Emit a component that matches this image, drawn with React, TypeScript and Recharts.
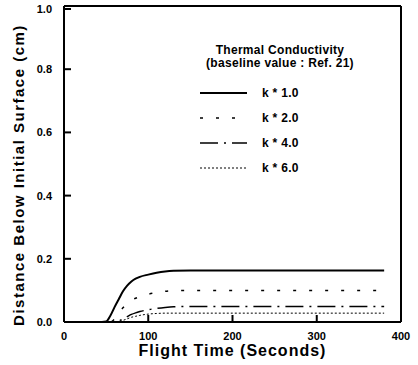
import { LineChart, Line, XAxis, YAxis, ReferenceLine } from "recharts";

// flight time (s)
const times = [0, 40, 50, 55, 60, 65, 70, 75, 80, 85, 90, 100, 110, 120, 130, 150, 200, 250, 300, 350, 380];

// distance below initial surface (cm) for each conductivity multiplier
const k1 = [0, 0, 0.002, 0.02, 0.047, 0.072, 0.097, 0.115, 0.128, 0.137, 0.143, 0.15, 0.156, 0.16, 0.162, 0.163, 0.163, 0.163, 0.163, 0.163, 0.163];
const k2 = [0, 0, 0, 0, 0.01, 0.03, 0.045, 0.058, 0.068, 0.075, 0.08, 0.088, 0.093, 0.097, 0.099, 0.1, 0.1, 0.1, 0.1, 0.1, 0.1];
const k4 = [0, 0, 0, 0, 0, 0.003, 0.01, 0.017, 0.024, 0.029, 0.033, 0.039, 0.043, 0.046, 0.048, 0.049, 0.049, 0.049, 0.049, 0.049, 0.049];
const k6 = [0, 0, 0, 0, 0, 0, 0.005, 0.01, 0.015, 0.018, 0.021, 0.025, 0.027, 0.028, 0.028, 0.028, 0.028, 0.028, 0.028, 0.028, 0.028];

const seriesNames = ["k * 1.0", "k * 2.0", "k * 4.0", "k * 6.0"];
const xTicks = [0, 100, 200, 300, 400];
const yTicks = [0, 0.2, 0.4, 0.6, 0.8, 1.0];

const data = times.map((t, i) => ({ t, k1: k1[i], k2: k2[i], k4: k4[i], k6: k6[i] }));

const keys = ["k1", "k2", "k4", "k6"];
const dashes = ["", "3 13", "18 6 2 6", "2 2"];
const widths = [2, 1.5, 1.5, 1];

const font = "'Liberation Sans', Arial, sans-serif";
const TICK = 7; // inward tick length
const XGAP = 10; // axis line to x tick label
const YGAP = 12; // axis line to y tick label

// ticks point into the plot; label drawn outside
function BottomTick(p: any) {
  const ay = p.y - XGAP;
  return (
    <g>
      <line x1={p.x} x2={p.x} y1={ay} y2={ay - TICK} stroke="#000" strokeWidth={2} />
      <text x={p.x} y={p.y} dy={8} textAnchor="middle" fill="#000" fontSize={11} fontWeight={700} fontFamily={font}>
        {p.payload.value}
      </text>
    </g>
  );
}

function LeftTick(p: any) {
  const ax = p.x + YGAP;
  return (
    <g>
      <line x1={ax} x2={ax + TICK} y1={p.y} y2={p.y} stroke="#000" strokeWidth={2} />
      <text x={p.x} y={p.y} dy={4} textAnchor="end" fill="#000" fontSize={11} fontWeight={700} fontFamily={font}>
        {Number(p.payload.value).toFixed(1)}
      </text>
    </g>
  );
}

function RightTick(p: any) {
  return <line x1={p.x} x2={p.x - TICK} y1={p.y} y2={p.y} stroke="#000" strokeWidth={2} />;
}

export default function App() {
  return (
    <div style={{ position: "absolute", left: 0, top: 0, width: 418, height: 365, background: "#fff", fontFamily: font }}>
      <LineChart width={418} height={365} data={data} margin={{ top: 6, right: 0, bottom: 0, left: 0 }}>
        <XAxis
          dataKey="t"
          type="number"
          domain={[0, 400]}
          ticks={xTicks}
          height={43}
          stroke="#000"
          strokeWidth={2}
          tickLine={false}
          tickSize={0}
          tickMargin={XGAP}
          tick={<BottomTick />}
          label={{
            value: "Flight Time (Seconds)",
            position: "insideBottom",
            offset: 9,
            fill: "#000",
            fontSize: 16,
            fontWeight: 700,
            fontFamily: font,
            letterSpacing: 1,
          }}
        />
        <YAxis
          yAxisId="left"
          type="number"
          domain={[0, 1]}
          ticks={yTicks}
          width={64}
          stroke="#000"
          strokeWidth={2}
          tickLine={false}
          tickSize={0}
          tickMargin={YGAP}
          tick={<LeftTick />}
          label={{
            content: (p: any) => {
              const vb = p.viewBox;
              const cx = vb.x + 20;
              const cy = vb.y + vb.height / 2 + 11;
              return (
                <text
                  x={cx}
                  y={cy}
                  transform={`rotate(-90, ${cx}, ${cy})`}
                  textAnchor="middle"
                  dominantBaseline="middle"
                  fill="#000"
                  fontSize={15}
                  fontWeight={700}
                  fontFamily={font}
                  letterSpacing={1.5}
                >
                  Distance Below Initial Surface (cm)
                </text>
              );
            },
          }}
        />
        <YAxis
          yAxisId="right"
          orientation="right"
          type="number"
          domain={[0, 1]}
          ticks={yTicks}
          width={17}
          stroke="#000"
          strokeWidth={2}
          tickLine={false}
          tickSize={0}
          tickMargin={0}
          tick={<RightTick />}
        />
        <ReferenceLine yAxisId="left" y={1} stroke="#000" strokeWidth={2} />
        {keys.map((k, i) => (
          <Line
            key={k}
            yAxisId="left"
            type="monotone"
            dataKey={k}
            name={seriesNames[i]}
            stroke="#000"
            strokeWidth={widths[i]}
            strokeDasharray={dashes[i] || undefined}
            dot={false}
            isAnimationActive={false}
          />
        ))}
      </LineChart>

      <div style={{ position: "absolute", left: 190, top: 44, width: 180, fontSize: 12, fontWeight: 700, color: "#000", letterSpacing: 0.3 }}>
        <div style={{ textAlign: "center", lineHeight: "13px" }}>Thermal Conductivity</div>
        <div style={{ textAlign: "center", lineHeight: "13px" }}>(baseline value : Ref. 21)</div>
        <div style={{ marginTop: 10 }}>
          {seriesNames.map((n, i) => (
            <div key={n} style={{ display: "flex", alignItems: "center", height: 25 }}>
              <svg width={62} height={10} style={{ marginLeft: 10 }}>
                <line
                  x1={0}
                  x2={47}
                  y1={5}
                  y2={5}
                  stroke="#000"
                  strokeWidth={widths[i]}
                  strokeDasharray={dashes[i] || undefined}
                />
              </svg>
              <span style={{ fontSize: 12 }}>{n}</span>
            </div>
          ))}
        </div>
      </div>
    </div>
  );
}
